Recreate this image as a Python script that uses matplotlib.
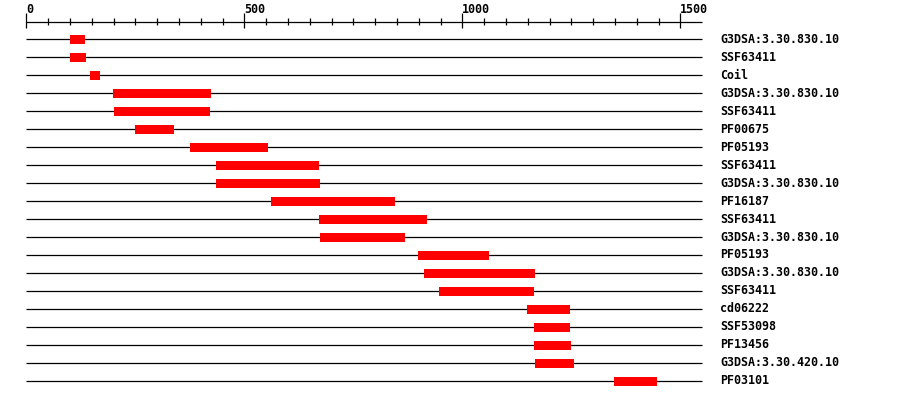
import numpy as np
import matplotlib.pyplot as plt

# domain features, top to bottom
labels = ["G3DSA:3.30.830.10", "SSF63411", "Coil", "G3DSA:3.30.830.10", "SSF63411",
          "PF00675", "PF05193", "SSF63411", "G3DSA:3.30.830.10", "PF16187",
          "SSF63411", "G3DSA:3.30.830.10", "PF05193", "G3DSA:3.30.830.10", "SSF63411",
          "cd06222", "SSF53098", "PF13456", "G3DSA:3.30.420.10", "PF03101"]
starts = [100, 100, 146, 199, 201, 249, 375, 435, 435, 561,
          671, 674, 898, 912, 947, 1148, 1164, 1164, 1167, 1348]
ends = [135, 138, 169, 424, 421, 339, 554, 671, 674, 846,
        919, 869, 1061, 1167, 1165, 1247, 1247, 1249, 1256, 1446]
seq_len = 1549
major_ticks = [0, 500, 1000, 1500]

fig = plt.figure(figsize=(9, 4), dpi=100)
ax = fig.add_axes([0, 0, 1, 1])

# map pixels: x = 26.3 + 0.436*u, row i at y = 39 + 18*i
ax.set_xlim(-26.3 / 0.436, (900 - 26.3) / 0.436)
ax.set_ylim((400 - 39) / 18, -39 / 18)
ax.axis("off")

rows = np.arange(len(labels))
ax.hlines(rows, 0, seq_len, color="black", lw=0.9)
ax.barh(rows, np.array(ends) - np.array(starts), left=starts, height=0.5,
        color="#ff0000", zorder=3)

font = dict(family="DejaVu Sans Mono", fontweight="bold", fontsize=8.4)
for i, lab in enumerate(labels):
    ax.text(1591, i, lab, va="center", ha="left", **font)

# ruler on top
y_axis = (21.5 - 39) / 18
ax.hlines(y_axis, 0, seq_len, color="black", lw=0.9)
for t in range(0, seq_len, 50):
    if t in major_ticks:
        ax.vlines(t, (13 - 39) / 18, (28 - 39) / 18, color="black", lw=0.9)
        ax.text(t, (3 - 39) / 18, str(t), va="top", ha="left", **font)
    else:
        ax.vlines(t, (18 - 39) / 18, (25 - 39) / 18, color="black", lw=0.9)

fig.savefig("out.png", dpi=100)
